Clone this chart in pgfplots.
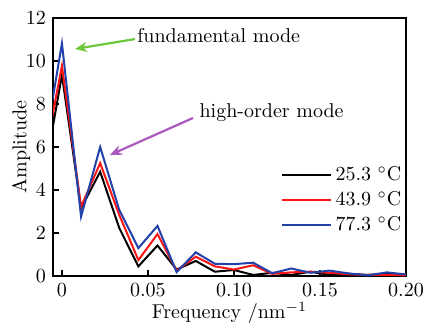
\documentclass[border=0pt]{standalone}
\usepackage{pgfplots}
\pgfplotsset{compat=1.18}
\usetikzlibrary{arrows.meta}
\definecolor{cblue}{RGB}{35,65,170}
\definecolor{cred}{RGB}{250,20,20}
\definecolor{cgreen}{RGB}{110,200,60}
\definecolor{cpurple}{RGB}{170,90,190}
\begin{document}
\begin{tikzpicture}
\begin{axis}[
  scale only axis,
  width=176.5pt, height=129pt,
  xmin=-0.0052, xmax=0.2,
  ymin=0, ymax=12,
  xtick={0,0.05,0.10,0.15,0.20},
  xticklabels={0,0.05,0.10,0.15,0.20},
  ytick={0,2,4,6,8,10,12},
  tick align=inside,
  xtick pos=bottom, ytick pos=left,
  major tick length=3pt,
  axis line style={line width=1.1pt},
  every tick/.style={line width=0.8pt, black},
  xlabel={Frequency /nm$^{-1}$},
  ylabel={Amplitude},
  xlabel style={yshift=4pt},
  ylabel style={yshift=-9pt},
  legend style={draw=none, fill=none, at={(1.005,0.45)}, anchor=north east,
    row sep=0pt, font=\normalsize, inner sep=1pt,
    /tikz/every even column/.append style={column sep=0pt}},
  legend cell align=left,
  legend image code/.code={\draw[#1] (0cm,0cm) -- (0.85cm,0cm);},
  clip=true,
]
\addplot[black, line width=1pt] coordinates {
(-0.01111,4.3) (0,9.35) (0.01111,3.15) (0.02222,4.85) (0.03333,2.23) (0.04444,0.45)
(0.05556,1.42) (0.06667,0.3) (0.07778,0.7) (0.08889,0.2) (0.1,0.28) (0.11111,0.05)
(0.12222,0.15) (0.13333,0.05) (0.14444,0.2) (0.15556,0.05) (0.16667,0.1) (0.17778,0.05)
(0.18889,0.1) (0.2,0.03)};
\addlegendentry{25.3 $^{\circ}$C}
\addplot[cred, line width=1pt] coordinates {
(-0.01111,5.15) (0,9.77) (0.01111,3.22) (0.02222,5.25) (0.03333,2.84) (0.04444,0.74)
(0.05556,1.95) (0.06667,0.25) (0.07778,0.9) (0.08889,0.45) (0.1,0.3) (0.11111,0.5)
(0.12222,0.1) (0.13333,0.17) (0.14444,0.2) (0.15556,0.15) (0.16667,0.08) (0.17778,0.05)
(0.18889,0.05) (0.2,0.03)};
\addlegendentry{43.9 $^{\circ}$C}
\addplot[cblue, line width=1pt] coordinates {
(-0.01111,5.5) (0,10.82) (0.01111,2.76) (0.02222,6.0) (0.03333,3.07) (0.04444,1.3)
(0.05556,2.33) (0.06667,0.18) (0.07778,1.1) (0.08889,0.57) (0.1,0.55) (0.11111,0.62)
(0.12222,0.13) (0.13333,0.35) (0.14444,0.15) (0.15556,0.25) (0.16667,0.12) (0.17778,0.03)
(0.18889,0.17) (0.2,0.07)};
\addlegendentry{77.3 $^{\circ}$C}
\node[anchor=base west, inner sep=0pt] at (axis cs:0.0436,10.88) {fundamental mode};
\draw[cgreen, line width=1.1pt, -{Stealth[length=6pt,width=5pt]}] (axis cs:0.0424,11.02) -- (axis cs:0.0076,10.56);
\node[anchor=base west, inner sep=0pt] at (axis cs:0.0798,7.35) {high-order mode};
\draw[cpurple, line width=1.1pt, -{Stealth[length=6pt,width=5pt]}] (axis cs:0.0762,7.35) -- (axis cs:0.0279,5.63);
\end{axis}
\pgfresetboundingbox
\path[use as bounding box] ([shift={(-26.5pt,-26.5pt)}]current axis.south west) rectangle ([shift={(9pt,9pt)}]current axis.north east);
\end{tikzpicture}
\end{document}
